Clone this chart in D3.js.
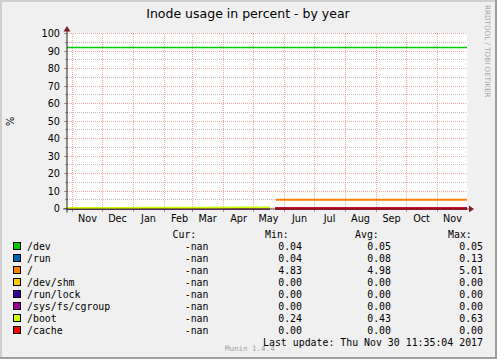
<!DOCTYPE html>
<html>
<head>
<meta charset="utf-8">
<script src="https://cdn.jsdelivr.net/npm/d3@7"></script>
<style>
  body { margin: 0; background: #f0f0f0; }
  svg { display: block; }
</style>
</head>
<body>
<div id="chart"></div>
<script>
// ---- data ----
var title = "Inode usage in percent - by year";
var yLabel = "%";
var lastUpdate = "Last update: Thu Nov 30 11:35:04 2017";

var endTime = Date.UTC(2017, 10, 30, 11, 35, 4);
var spanDays = 400;

var sampleTimes = ["2016-10-26T11:35:04Z", "2016-11-15", "2016-12-15", "2017-01-15", "2017-02-15",
  "2017-03-15", "2017-04-15", "2017-05-17", "2017-05-20", "2017-05-22", "2017-05-23", "2017-05-24",
  "2017-06-15", "2017-07-15", "2017-08-15", "2017-09-15", "2017-10-15", "2017-11-30T11:35:04Z"];

var names = ["/dev", "/run", "/", "/dev/shm", "/run/lock", "/sys/fs/cgroup", "/boot", "/cache"];
var colors = ["#00cc00", "#0066b3", "#ff8000", "#ffcc00", "#330099", "#990099", "#ccff00", "#ff0000"];

var devValues    = [0.05, 0.05, 0.05, 0.05, 0.05, 0.05, 0.05, 0.05, null, 0.04, 0.04, 0.04, 0.05, 0.05, 0.05, 0.05, 0.05, 0.05];
var runValues    = [0.04, 0.05, 0.06, 0.07, 0.08, 0.09, 0.10, 0.11, null, 0.06, 0.06, 0.07, 0.08, 0.09, 0.10, 0.11, 0.12, 0.13];
var rootValues   = [null, null, null, null, null, null, null, null, null, null, 4.83, 4.97, 4.98, 4.99, 5.00, 5.00, 5.01, 5.01];
var shmValues    = [0, 0, 0, 0, 0, 0, 0, 0, null, 0, 0, 0, 0, 0, 0, 0, 0, 0];
var lockValues   = [0, 0, 0, 0, 0, 0, 0, 0, null, 0, 0, 0, 0, 0, 0, 0, 0, 0];
var cgroupValues = [0, 0, 0, 0, 0, 0, 0, 0, null, 0, 0, 0, 0, 0, 0, 0, 0, 0];
var bootValues   = [0.24, 0.29, 0.34, 0.39, 0.45, 0.50, 0.56, 0.63, null, null, null, null, null, null, null, null, null, null];
var cacheValues  = [null, null, null, null, null, null, null, null, null, 0, 0, 0, 0, 0, 0, 0, 0, 0];

var hruleValues = [92];

var curText = ["-nan", "-nan", "-nan", "-nan", "-nan", "-nan", "-nan", "-nan"];
var minVals = [0.04, 0.04, 4.83, 0.00, 0.00, 0.00, 0.24, 0.00];
var avgVals = [0.05, 0.08, 4.98, 0.00, 0.00, 0.00, 0.43, 0.00];
var maxVals = [0.05, 0.13, 5.01, 0.00, 0.00, 0.00, 0.63, 0.00];

var yMajor = [0, 10, 20, 30, 40, 50, 60, 70, 80, 90, 100];
var yMinor = [5, 15, 25, 35, 45, 55, 65, 75, 85, 95];

// ---- layout ----
var W = 497, H = 359;
var plotL = 67, plotR = 467, plotT = 33.5, plotB = 208.5;
var sans = "DejaVu Sans", mono = "DejaVu Sans Mono";

var allSeries = [devValues, runValues, rootValues, shmValues, lockValues, cgroupValues, bootValues, cacheValues];
var times = sampleTimes.map(function(s) { return new Date(s.length > 10 ? s : s + "T12:00:00Z"); });

var x = d3.scaleUtc()
    .domain([new Date(endTime - spanDays * 864e5), new Date(endTime)])
    .range([plotL, plotR]);
var y = d3.scaleLinear().domain([0, 100]).range([plotB, plotT]);

var svg = d3.select("#chart").append("svg")
    .attr("width", W).attr("height", H);

// frame
svg.append("rect").attr("width", W).attr("height", H).attr("fill", "#f0f0f0");
svg.append("path").attr("d", "M0," + H + "V0H" + W).attr("fill", "none")
    .attr("stroke", "#cfcfcf").attr("stroke-width", 4);
svg.append("path").attr("d", "M0," + H + "H" + W + "V0").attr("fill", "none")
    .attr("stroke", "#9e9e9e").attr("stroke-width", 4);

// canvas
svg.append("rect").attr("x", plotL).attr("y", plotT - 0.5)
    .attr("width", plotR - plotL).attr("height", plotB - plotT + 1).attr("fill", "#fff");

function snap(v) { return Math.floor(v) + 0.5; }

var grid = svg.append("g").attr("class", "grid").attr("shape-rendering", "crispEdges");

// minor horizontal grid
grid.selectAll(".ymin").data(yMinor).enter().append("line")
    .attr("x1", plotL).attr("x2", plotR)
    .attr("y1", function(d) { return snap(y(d)); }).attr("y2", function(d) { return snap(y(d)); })
    .attr("stroke", "rgba(143,143,143,0.6)").attr("stroke-dasharray", "1,1");
grid.selectAll(".ymintick").data(yMinor).enter().append("line")
    .attr("x1", plotL - 2).attr("x2", plotL)
    .attr("y1", function(d) { return snap(y(d)); }).attr("y2", function(d) { return snap(y(d)); })
    .attr("stroke", "rgba(143,143,143,0.8)");

// major horizontal grid
grid.selectAll(".ymaj").data(yMajor).enter().append("line")
    .attr("x1", plotL).attr("x2", plotR)
    .attr("y1", function(d) { return snap(y(d)); }).attr("y2", function(d) { return snap(y(d)); })
    .attr("stroke", "rgba(222,79,79,0.5)").attr("stroke-dasharray", "1,1");
grid.selectAll(".ymajtick").data(yMajor).enter().append("line")
    .attr("x1", plotL - 3).attr("x2", plotL)
    .attr("y1", function(d) { return snap(y(d)); }).attr("y2", function(d) { return snap(y(d)); })
    .attr("stroke", "rgba(143,143,143,0.9)");

// month grid
var months = d3.utcMonth.range(d3.utcMonth.ceil(x.domain()[0]), x.domain()[1]);
grid.selectAll(".xmaj").data(months).enter().append("line")
    .attr("x1", function(d) { return snap(x(d)); }).attr("x2", function(d) { return snap(x(d)); })
    .attr("y1", plotT).attr("y2", plotB)
    .attr("stroke", "rgba(222,79,79,0.5)").attr("stroke-dasharray", "1,1");
grid.selectAll(".xtick").data(months).enter().append("line")
    .attr("x1", function(d) { return snap(x(d)); }).attr("x2", function(d) { return snap(x(d)); })
    .attr("y1", plotB).attr("y2", plotB + 3)
    .attr("stroke", "rgba(143,143,143,0.9)");

// y labels
svg.selectAll(".ylab").data(yMajor).enter().append("text")
    .attr("x", 60).attr("y", function(d) { return snap(y(d)); }).attr("dy", "0.36em")
    .attr("text-anchor", "end").attr("font-family", sans).attr("font-size", 9.7)
    .text(function(d) { return d; });

// x labels, centred half a month after each month start
var fmt = d3.utcFormat("%b");
svg.selectAll(".xlab").data(months).enter().append("text")
    .attr("x", function(d) { return x(d3.utcDay.offset(d, 15)); }).attr("y", 221.5)
    .attr("text-anchor", "middle").attr("font-family", sans).attr("font-size", 9.7)
    .text(function(d) { return fmt(d); });

// hrule
svg.selectAll(".hrule").data(hruleValues).enter().append("line")
    .attr("x1", plotL).attr("x2", plotR)
    .attr("y1", function(d) { return snap(y(d)); }).attr("y2", function(d) { return snap(y(d)); })
    .attr("stroke", colors[0]).attr("stroke-width", 1.3);

// series lines
var line = d3.line()
    .defined(function(d) { return d[1] != null; })
    .x(function(d) { return x(d[0]); })
    .y(function(d) { return y(d[1]); });

svg.append("g").selectAll("path").data(allSeries).enter().append("path")
    .attr("d", function(vals) { return line(vals.map(function(v, i) { return [times[i], v]; })); })
    .attr("fill", "none")
    .attr("stroke", function(d, i) { return colors[i]; })
    .attr("stroke-width", 2);

// axes drawn over the data, as rrdtool does
svg.append("line").attr("x1", plotL - 4).attr("x2", plotR + 3).attr("y1", 209).attr("y2", 209)
    .attr("stroke", "#1f1f1f").attr("stroke-opacity", 0.75);
svg.append("line").attr("x1", 67).attr("x2", 67).attr("y1", plotB + 4).attr("y2", plotT - 3)
    .attr("stroke", "#1f1f1f");

// arrows
svg.append("path").attr("d", "M" + (plotR + 2) + ",205.5L" + (plotR + 7) + ",209L" + (plotR + 2) + ",212.5Z")
    .attr("fill", "#7f1f1f");
svg.append("path").attr("d", "M63.5," + (plotT - 2) + "L67,26L70.5," + (plotT - 2) + "Z")
    .attr("fill", "#7f1f1f");

// title
svg.append("text").attr("x", 248).attr("y", 18).attr("text-anchor", "middle")
    .attr("font-family", sans).attr("font-size", 12.5).text(title);

// y title
svg.append("text").attr("transform", "translate(13.5,121.5) rotate(-90)")
    .attr("text-anchor", "middle").attr("font-family", sans).attr("font-size", 9.7).text(yLabel);

// watermark
svg.append("text").attr("transform", "translate(485,5) rotate(90)")
    .attr("font-family", sans).attr("font-size", 7.2).attr("fill", "#a8a8a8")
    .text("RRDTOOL / TOBI OETIKER");

// legend
var legend = svg.append("g").attr("font-family", mono).attr("font-size", 9.9).attr("fill", "#000");
var headers = [["Cur:", 172.5], ["Min:", 265], ["Avg:", 355], ["Max:", 448]];
legend.selectAll(".hdr").data(headers).enter().append("text")
    .attr("x", function(d) { return d[1]; }).attr("y", 237.5).text(function(d) { return d[0]; });

var rows = legend.selectAll(".row").data(names).enter().append("g")
    .attr("transform", function(d, i) { return "translate(0," + (250 + i * 12) + ")"; });
rows.append("rect").attr("x", 13.5).attr("y", -7.5).attr("width", 7).attr("height", 7)
    .attr("fill", function(d, i) { return colors[i]; }).attr("stroke", "#000").attr("stroke-width", 1);
rows.append("text").attr("x", 27).text(function(d) { return d; });
rows.append("text").attr("x", 208.5).attr("text-anchor", "end").text(function(d, i) { return curText[i]; });
rows.append("text").attr("x", 302).attr("text-anchor", "end").text(function(d, i) { return minVals[i].toFixed(2); });
rows.append("text").attr("x", 391).attr("text-anchor", "end").text(function(d, i) { return avgVals[i].toFixed(2); });
rows.append("text").attr("x", 483).attr("text-anchor", "end").text(function(d, i) { return maxVals[i].toFixed(2); });

svg.append("text").attr("x", 225).attr("y", 350.5)
    .attr("font-family", mono).attr("font-size", 7.5).attr("fill", "#a0a0a0").text("Munin 1.4.4");
svg.append("text").attr("x", 483).attr("y", 345.5).attr("text-anchor", "end")
    .attr("font-family", mono).attr("font-size", 9.9).attr("fill", "#000").text(lastUpdate);
</script>
</body>
</html>
